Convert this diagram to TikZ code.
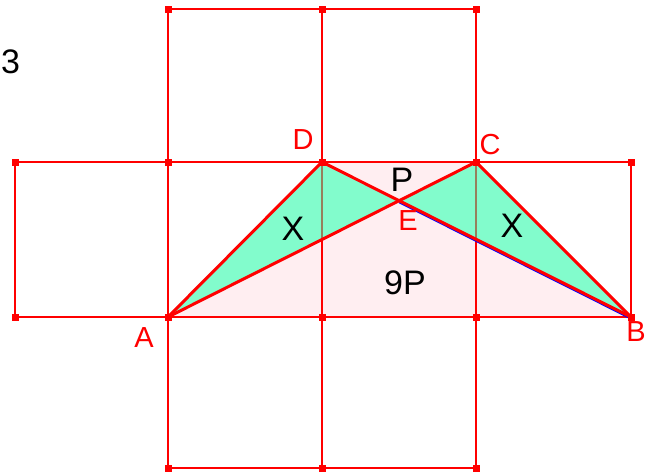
\documentclass[tikz,border=0pt]{standalone}
\usepackage{fontspec}
\setmainfont{Liberation Sans}
\usetikzlibrary{calc,intersections}
\definecolor{gridred}{RGB}{255,0,0}
\definecolor{pinkfill}{RGB}{255,238,241}
\definecolor{greenfill}{RGB}{130,252,204}
\definecolor{olive}{RGB}{150,128,92}
\tikzset{
  gridline/.style={draw=gridred, line width=2.8pt},
  segline/.style={draw=gridred, line width=3pt},
  vmark/.style={fill=gridred, inner sep=0pt, minimum size=7pt, draw=none, rectangle},
  lbl/.style={text=gridred, font=\fontsize{29}{34}\selectfont, inner sep=0pt},
  txt/.style={text=black, font=\fontsize{34}{40}\selectfont, inner sep=0pt},
}
\begin{document}
\begin{tikzpicture}[x=1pt,y=-1pt]
\useasboundingbox (0,0) rectangle (653,472);
% grid points
\coordinate (t1) at (168,9);
\coordinate (t2) at (322,9);
\coordinate (t3) at (476,9);
\coordinate (m0) at (15,162);
\coordinate (m1) at (168,162);
\coordinate (D) at (322,162);
\coordinate (C) at (476,162);
\coordinate (m4) at (631,162);
\coordinate (n0) at (15,317);
\coordinate (A) at (168,317);
\coordinate (n2) at (322,317);
\coordinate (n3) at (476,317);
\coordinate (B) at (631,317);
\coordinate (b1) at (168,468);
\coordinate (b2) at (322,468);
\coordinate (b3) at (476,468);
\path[name path=ac] (A) -- (C);
\path[name path=db] (D) -- (B);
\path[name intersections={of=ac and db, by=E}];
\coordinate (dd) at (322,239.5);
\coordinate (cc) at (476,239.3);
% pink trapezoid
\fill[pinkfill] (A) -- (D) -- (C) -- (B) -- cycle;
% grid
\draw[gridline] (t1) -- (t3);
\draw[gridline] (m0) -- (m4);
\draw[gridline] (n0) -- (B);
\draw[gridline] (b1) -- (b3);
\draw[gridline] (m0) -- (n0);
\draw[gridline] (m4) -- (B);
\draw[gridline] (t1) -- (b1);
\draw[gridline] (t2) -- (b2);
\draw[gridline] (t3) -- (b3);
% green triangles
\fill[greenfill] (A) -- (D) -- (E) -- cycle;
\fill[greenfill] (E) -- (C) -- (B) -- cycle;
\draw[draw=olive, line width=2.8pt] (D) -- (dd);
\draw[draw=olive, line width=2.8pt] (C) -- (cc);
% segments
\draw[blue, line width=1.2pt] ($(E)+(0,2)$) -- ($(B)+(0,2)$);
\draw[segline] (A) -- (D);
\draw[segline] (C) -- (B);
\draw[segline] (A) -- (C);
\draw[segline] (D) -- (B);
\draw[gridline] (D) -- (C);
% vertex marks
\foreach \p in {t1,t2,t3,m0,m1,D,C,m4,n0,A,n2,n3,B,b1,b2,b3}
  \node[vmark] at (\p) {};
% labels
\node[lbl] (lD) at (303,140) {D};
\node[lbl] (lC) at (490,145) {C};
\node[lbl] (lA) at (144,338) {A};
\node[lbl] (lB) at (636,332) {B};
\node[lbl] (lE) at (408,221) {E};
\node[txt] (tP) at (402,180) {P};
\node[txt] (tX1) at (293,229) {X};
\node[txt] (tX2) at (512,226) {X};
\node[txt] (t9P) at (405,283) {9P};
\node[txt] (t3txt) at (10.5,62) {3};
\end{tikzpicture}
\end{document}
